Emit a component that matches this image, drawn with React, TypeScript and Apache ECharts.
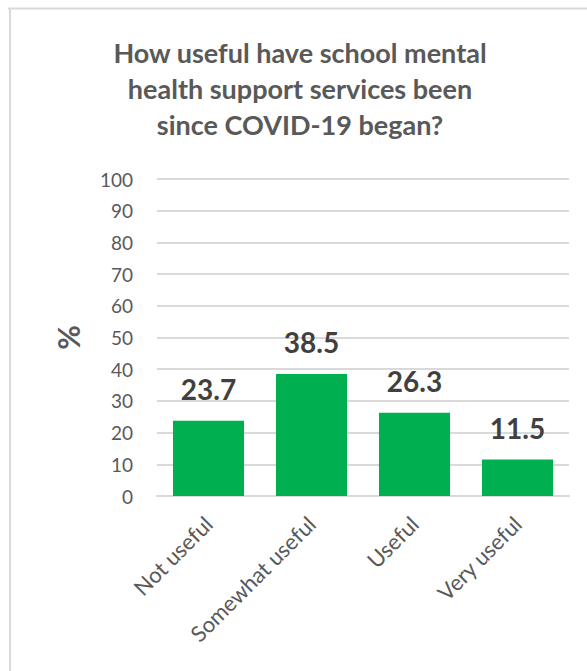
import React, { useEffect, useRef } from "react";
import * as echarts from "echarts";

const categories = ["Not useful", "Somewhat useful", "Useful", "Very useful"];
const values = [23.7, 38.5, 26.3, 11.5];
const titleLines = [
  "How useful have school mental",
  "health support services been",
  "since COVID-19 began?",
];
const yAxisName = "%";

const FONT = "Lato, 'Open Sans', sans-serif";

export default function App() {
  const ref = useRef<HTMLDivElement>(null);
  useEffect(() => {
    if (!ref.current) return;
    const chart = echarts.init(ref.current, null, { renderer: "svg" });
    chart.setOption({
      animation: false,
      backgroundColor: "#ffffff",
      textStyle: { fontFamily: FONT },
      graphic: [
        {
          type: "line",
          shape: { x1: 8, y1: 8.5, x2: 587, y2: 8.5 },
          style: { stroke: "#D9D9D9", lineWidth: 2 },
        },
        {
          type: "line",
          shape: { x1: 10, y1: 8, x2: 10, y2: 671 },
          style: { stroke: "#D9D9D9", lineWidth: 2 },
        },
        {
          type: "text",
          x: 300,
          y: 88,
          style: {
            text: titleLines.join("\n"),
            fontFamily: FONT,
            fontSize: 27,
            fontWeight: "bold",
            fill: "#595959",
            lineHeight: 36,
            align: "center",
            verticalAlign: "middle",
          },
        },
      ],
      grid: { left: 157, right: 18, top: 179, bottom: 175, containLabel: false },
      xAxis: {
        type: "category",
        data: categories,
        axisLine: { lineStyle: { color: "#D9D9D9", width: 2 } },
        axisTick: { show: false },
        axisLabel: {
          rotate: 45,
          interval: 0,
          margin: 24,
          fontSize: 22,
          color: "#595959",
          fontFamily: FONT,
        },
      },
      yAxis: {
        type: "value",
        min: 0,
        max: 100,
        interval: 10,
        name: yAxisName,
        nameLocation: "middle",
        nameRotate: 90,
        nameGap: 89,
        nameTextStyle: {
          fontSize: 30,
          fontWeight: "bold",
          color: "#595959",
          fontFamily: FONT,
          verticalAlign: "middle",
        },
        axisLine: { show: false },
        axisTick: { show: false },
        splitLine: { lineStyle: { color: "#D9D9D9", width: 2 } },
        axisLabel: {
          margin: 24,
          fontSize: 19,
          color: "#595959",
          fontFamily: FONT,
        },
      },
      series: [
        {
          type: "bar",
          data: values,
          barWidth: "69%",
          itemStyle: { color: "#00B050" },
          label: {
            show: true,
            position: "top",
            distance: 18,
            fontSize: 28,
            fontWeight: "bold",
            color: "#404040",
            fontFamily: FONT,
            formatter: (p: any) => p.value.toFixed(1),
          },
        },
      ],
    });
    return () => chart.dispose();
  }, []);
  return (
    <div
      ref={ref}
      style={{ position: "fixed", left: 0, top: 0, width: 587, height: 671 }}
    />
  );
}
